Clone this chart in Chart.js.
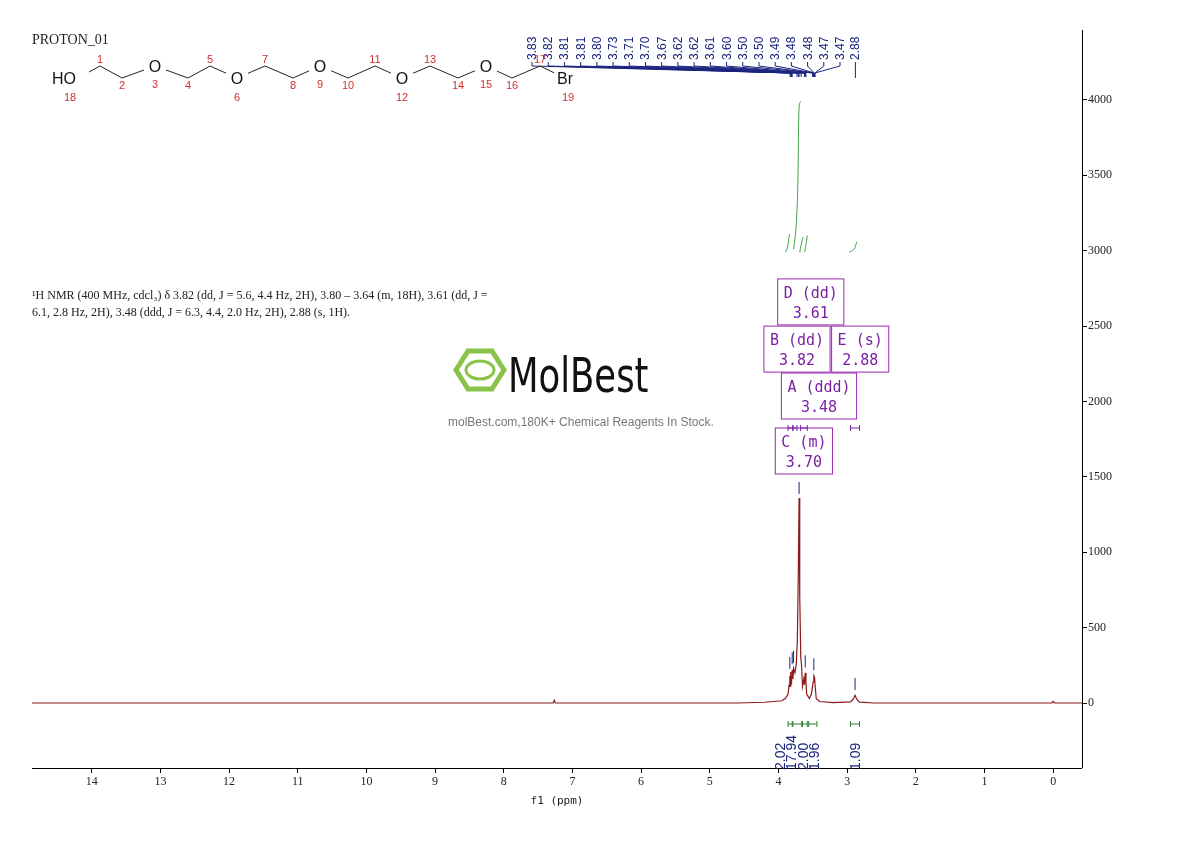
<!DOCTYPE html>
<html>
<head>
<script src="https://cdn.jsdelivr.net/npm/chart.js@4"></script>
<style>body{margin:0;background:#fff}#wrap{width:1190px;height:841px}</style>
</head>
<body>
<div id="wrap"><canvas id="myChart" width="1190" height="841"></canvas></div>
<script>
// spectrum: [ppm, intensity]
const spectrum = [
  [14.87,0],[8,0],[7.28,0],[7.265,18],[7.25,0],[4.6,0],[4.2,5],[3.95,15],[3.9,30],[3.86,60],
  [3.845,120],[3.835,180],[3.83,110],[3.825,205],[3.82,140],[3.81,130],[3.80,220],[3.79,160],
  [3.78,230],[3.76,200],[3.74,260],[3.725,420],[3.71,900],[3.70,1360],[3.69,700],[3.675,300],
  [3.665,260],[3.65,110],[3.63,160],[3.62,120],[3.61,200],[3.60,150],[3.59,60],[3.55,30],
  [3.52,60],[3.495,140],[3.485,180],[3.475,170],[3.465,110],[3.45,30],[3.4,10],[3.2,3],
  [2.95,8],[2.91,25],[2.885,52],[2.86,25],[2.82,6],[2.6,0],[0.02,0],[0.0,10],[-0.02,0],[-0.42,0]
];
// integral curves (green, upper)
const integralA = [[3.90,2990],[3.87,3020],[3.85,3080],[3.84,3110]];
const integralC = [[3.78,3010],[3.75,3120],[3.72,3400],[3.70,3960],[3.68,3990]];
const integralB = [[3.69,2990],[3.67,3040],[3.64,3090]];
const integralD = [[3.62,2990],[3.60,3040],[3.58,3100]];
const integralE = [[2.97,2990],[2.9,3010],[2.86,3060]];
// peak picking labels
const peakLabels = ['3.83','3.82','3.81','3.81','3.80','3.73','3.71','3.70','3.67','3.62','3.62','3.61','3.60','3.50','3.50','3.49','3.48','3.48','3.47','3.47'];
const peakPpm = [3.83,3.82,3.81,3.81,3.80,3.73,3.71,3.70,3.67,3.62,3.62,3.61,3.60,3.50,3.50,3.49,3.48,3.48,3.47,3.47];
// integral values below axis
const integralValues = ['2.02','17.94','2.00','1.96','1.09'];
const integralLabelPpm = [3.98,3.82,3.65,3.48,2.88];
const integralRanges = [[3.86,3.80],[3.79,3.66],[3.65,3.58],[3.56,3.44],[2.95,2.82]];
// multiplet boxes: [name, shift, box center ppm, top y-value]
const multiplets = [
  ['D (dd)','3.61',3.53,2813],['B (dd)','3.82',3.73,2500],['E (s)','2.88',2.81,2500],
  ['A (ddd)','3.48',3.41,2189],['C (m)','3.70',3.63,1824]
];
const xTicks = [14,13,12,11,10,9,8,7,6,5,4,3,2,1,0];
const yTicks = [0,500,1000,1500,2000,2500,3000,3500,4000];

const pts = a => a.map(p => ({x:p[0], y:p[1]}));

const overlay = {
  id:'overlay',
  afterDraw(chart){
    const c = chart.ctx, x = chart.scales.x, y = chart.scales.y, a = chart.chartArea;
    c.save();
    c.strokeStyle='#000'; c.lineWidth=1;
    c.beginPath(); c.moveTo(a.left,a.bottom+0.5); c.lineTo(a.right,a.bottom+0.5);
    c.moveTo(a.right+0.5,a.top); c.lineTo(a.right+0.5,a.bottom); c.stroke();
    c.fillStyle='#222'; c.textAlign='center';
    c.font='11px "DejaVu Sans Mono", monospace'; c.fillText('f1 (ppm)',557,804);
    // peak labels
    const n = peakLabels.length, x0 = 532, dx = (840-532)/(n-1);
    c.font='12px "Liberation Sans", Arial'; c.fillStyle='#1a237e'; c.strokeStyle='#1a237e';
    c.textAlign='left';
    peakLabels.forEach((t,i)=>{
      const lx = x0 + i*dx, px = x.getPixelForValue(peakPpm[i]);
      c.save(); c.translate(lx+4,60); c.rotate(-Math.PI/2); c.fillText(t,0,0); c.restore();
      c.beginPath(); c.moveTo(lx,62); c.lineTo(lx,66); c.lineTo(px,73); c.lineTo(px,77); c.stroke();
    });
    const ex = x.getPixelForValue(2.88);
    c.save(); c.translate(ex+4,60); c.rotate(-Math.PI/2); c.fillText('2.88',0,0); c.restore();
    c.beginPath(); c.moveTo(ex,62); c.lineTo(ex,78); c.stroke();
    // peak ticks above peaks
    [[3.835,200],[3.80,230],[3.78,240],[3.70,1360],[3.61,210],[3.485,190],[2.885,60]].forEach(p=>{
      const px=x.getPixelForValue(p[0]), py=y.getPixelForValue(p[1]);
      c.beginPath(); c.moveTo(px,py-4); c.lineTo(px,py-16); c.stroke();
    });
    // integrals below axis
    c.strokeStyle='#2e7d32'; c.fillStyle='#1a237e';
    integralRanges.forEach(r=>{
      const a1=x.getPixelForValue(r[0]), a2=x.getPixelForValue(r[1]), yy=724;
      c.beginPath(); c.moveTo(a1,yy-3); c.lineTo(a1,yy+3); c.moveTo(a1,yy); c.lineTo(a2,yy);
      c.moveTo(a2,yy-3); c.lineTo(a2,yy+3); c.stroke();
    });
    c.font='14px "Liberation Sans", Arial';
    integralValues.forEach((t,i)=>{
      const px = x.getPixelForValue(integralLabelPpm[i]);
      c.save(); c.translate(px+5,770); c.rotate(-Math.PI/2); c.fillText(t,0,0); c.restore();
    });
    // multiplet boxes
    c.font='15px "DejaVu Sans Mono", monospace'; c.textAlign='center';
    multiplets.forEach(m=>{
      const px=x.getPixelForValue(m[2]), py=y.getPixelForValue(m[3]);
      const w=c.measureText(m[0]).width+12;
      c.strokeStyle='#9c27b0'; c.fillStyle='#fff';
      c.fillRect(px-w/2,py,w,46); c.strokeRect(px-w/2,py,w,46);
      c.fillStyle='#7b1fa2'; c.fillText(m[0],px,py+19); c.fillText(m[1],px,py+39);
    });
    c.strokeStyle='#7b1fa2';
    [[3.86,3.79],[3.79,3.73],[3.68,3.58],[2.95,2.82]].forEach(r=>{
      const a1=x.getPixelForValue(r[0]), a2=x.getPixelForValue(r[1]), yy=428;
      c.beginPath(); c.moveTo(a1,yy-3); c.lineTo(a1,yy+3); c.moveTo(a1,yy); c.lineTo(a2,yy);
      c.moveTo(a2,yy-3); c.lineTo(a2,yy+3); c.stroke();
    });
    // title & description
    c.textAlign='left'; c.fillStyle='#222';
    c.font='14px "Liberation Serif", serif'; c.fillText('PROTON_01',32,44);
    c.font='12px "Liberation Serif", serif';
    c.fillText('¹H NMR (400 MHz, cdcl₃) δ 3.82 (dd, J = 5.6, 4.4 Hz, 2H), 3.80 – 3.64 (m, 18H), 3.61 (dd, J =',32,299);
    c.fillText('6.1, 2.8 Hz, 2H), 3.48 (ddd, J = 6.3, 4.4, 2.0 Hz, 2H), 2.88 (s, 1H).',32,316);
    // molecule chain
    const mx=[78,100,122,155,188,210,237,265,293,320,348,375,402,430,458,486,512,540,565];
    const my=[78,66,78,66,78,66,78,66,78,66,78,66,78,66,78,66,78,66,78];
    const lbl=['HO','1','2','O','4','5','O','7','8','O','10','11','O','13','14','O','16','17','Br'];
    c.strokeStyle='#222'; c.beginPath(); c.moveTo(mx[0],my[0]);
    for(let i=1;i<mx.length;i++) c.lineTo(mx[i],my[i]); c.stroke();
    c.textAlign='center';
    mx.forEach((v,i)=>{
      const t=lbl[i];
      if(t==='HO'||t==='O'||t==='Br'){
        c.fillStyle='#fff'; c.fillRect(v-11,my[i]-9,22,16);
        c.fillStyle='#111'; c.font='16px "Liberation Sans", Arial'; c.fillText(t,v-(t==='HO'?14:0),my[i]+6);
      } else { c.fillStyle='#d32f2f'; c.font='11px "Liberation Sans", Arial'; c.fillText(t,v,my[i]+(my[i]<70?-3:11)); }
    });
    c.fillStyle='#d32f2f'; c.font='11px "Liberation Sans", Arial';
    [['18',70,101],['3',155,88],['6',237,101],['9',320,88],['12',402,101],['15',486,88],['19',568,101]].forEach(t=>c.fillText(t[0],t[1],t[2]));
    // watermark
    c.strokeStyle='#8bc34a'; c.lineWidth=5;
    c.beginPath();
    for(let i=0;i<6;i++){const ang=Math.PI/3*i; const X=480+24*Math.cos(ang), Y=370+22*Math.sin(ang); i?c.lineTo(X,Y):c.moveTo(X,Y);}
    c.closePath(); c.stroke();
    c.lineWidth=3; c.beginPath(); c.ellipse(480,370,14,9,0,0,Math.PI*2); c.stroke();
    c.fillStyle='#111'; c.font='48px "DejaVu Sans Condensed", sans-serif'; c.textAlign='left';
    c.save(); c.translate(508,392); c.scale(0.82,1); c.fillText('MolBest',0,0); c.restore();
    c.fillStyle='#777'; c.font='12px "Liberation Sans", Arial'; c.fillText('molBest.com,180K+ Chemical Reagents In Stock.',448,426);
    c.restore();
  }
};

const green = {borderColor:'#43a047', borderWidth:1, pointRadius:0, tension:0.4, fill:false};
new Chart(document.getElementById('myChart'), {
  type:'line',
  data:{datasets:[
    {data:pts(spectrum), borderColor:'#8b1a1a', borderWidth:1.2, pointRadius:0, tension:0},
    {...green, data:pts(integralA)},{...green, data:pts(integralC)},{...green, data:pts(integralB)},
    {...green, data:pts(integralD)},{...green, data:pts(integralE)}
  ]},
  options:{
    responsive:false, animation:false,
    layout:{padding:{top:30,left:32,right:0,bottom:0}},
    plugins:{legend:{display:false}, tooltip:{enabled:false}},
    scales:{
      x:{type:'linear', reverse:true, min:-0.42, max:14.87,
        afterBuildTicks: s => { s.ticks = xTicks.map(v=>({value:v})); },
        grid:{display:true, drawOnChartArea:false, tickLength:5, color:'#000'}, border:{display:false},
        ticks:{color:'#222', font:{family:'Liberation Serif', size:12}, maxRotation:0, autoSkip:false, padding:2},
        afterFit: s => { s.height = 841-768; }
      },
      y:{position:'right', min:-431, max:4464,
        afterBuildTicks: s => { s.ticks = yTicks.map(v=>({value:v})); },
        grid:{display:true, drawOnChartArea:false, tickLength:5, color:'#000'}, border:{display:false},
        ticks:{color:'#222', font:{family:'Liberation Serif', size:12}, padding:1, callback: v => String(v)},
        afterFit: s => { s.width = 1190-1082; }
      }
    }
  },
  plugins:[overlay]
});
</script>
</body>
</html>
